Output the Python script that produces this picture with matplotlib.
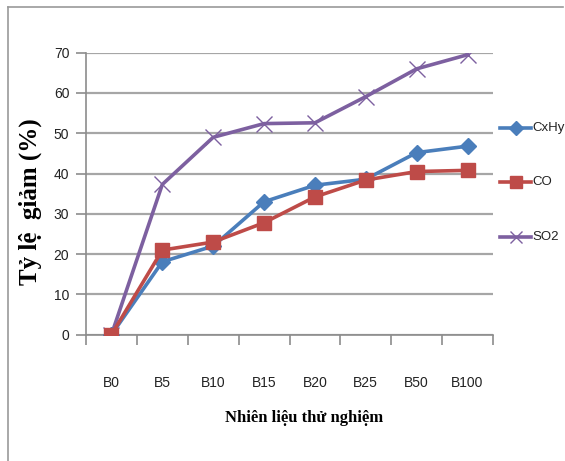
import matplotlib
matplotlib.use("Agg")
import matplotlib.pyplot as plt
from matplotlib.lines import Line2D

categories = ["B0", "B5", "B10", "B15", "B20", "B25", "B50", "B100"]
cxhy = [0, 18.1, 22.0, 33.0, 37.1, 38.6, 45.2, 46.8]
co = [0, 21.0, 23.0, 27.8, 34.2, 38.4, 40.5, 40.8]
so2 = [0, 37.3, 49.0, 52.4, 52.6, 59.1, 66.0, 69.5]
series_names = ["CxHy", "CO", "SO2"]

plt.rcParams["font.family"] = ["Liberation Sans Narrow", "Liberation Sans", "DejaVu Sans"]

W, H = 565, 461
fig = plt.figure(figsize=(W / 100, H / 100), dpi=100)
ax = fig.add_axes([86 / W, 1 - 334.7 / H, (493 - 86) / W, (334.7 - 52.7) / H])

xs = [i + 0.5 for i in range(len(categories))]
ax.plot(xs, cxhy, color="#4A7EBB", lw=2.6, marker="D", ms=8, label=series_names[0], zorder=3)
ax.plot(xs, co, color="#BE4B48", lw=2.6, marker="s", ms=10, label=series_names[1], zorder=4)
ax.plot(xs, so2, color="#7D60A0", lw=2.6, marker="x", ms=11, mew=1.0, label=series_names[2], zorder=2)

ax.set_xlim(0, len(categories))
ax.set_ylim(0, 70)
ax.set_yticks(range(0, 71, 10))
ax.set_xticks(range(0, len(categories) + 1))
ax.set_xticklabels([])
ax.set_xticks(xs, minor=True)
ax.set_xticklabels(categories, minor=True)
ax.tick_params(axis="x", which="minor", length=0, pad=30, labelsize=10, labelcolor="#222222")
ax.tick_params(axis="x", which="major", length=7, direction="out", color="#8c8c8c", width=1.2)
ax.tick_params(axis="y", length=7, direction="out", color="#8c8c8c", width=1.2, labelsize=10,
               pad=5, labelcolor="#222222")
ax.yaxis.grid(True, color="#a6a6a6", lw=1.6)
ax.set_axisbelow(True)
for s in ["top", "right", "bottom"]:
    ax.spines[s].set_visible(False)
ax.spines["left"].set_color("#8c8c8c")
ax.spines["left"].set_linewidth(1.2)
ax.axhline(0, color="#8c8c8c", lw=1.2, zorder=1, clip_on=False)

fig.text(30 / W, 1 - 202 / H, "Tỷ lệ  giảm (%)", rotation=90, ha="center", va="center",
         family="Liberation Serif", fontsize=18, fontweight="bold")
fig.text(304 / W, 1 - 418 / H, "Nhiên liệu thử nghiệm", ha="center", va="center",
         family="Liberation Serif", fontsize=12, fontweight="bold")

# legend entries on the right
ys = [128, 182, 237]
for name, line, y in zip(series_names, ax.get_lines()[:3], ys):
    fy = 1 - y / H
    fig.add_artist(Line2D([500 / W, 515.5 / W, 531 / W], [fy, fy, fy], color=line.get_color(), lw=2.6,
                          marker=line.get_marker(), ms=line.get_markersize() * 0.85,
                          mew=line.get_markeredgewidth(), markevery=[1],
                          transform=fig.transFigure))
    fig.text(532 / W, fy, name, ha="left", va="center", fontsize=9.5, color="#222222")

# outer frame (left and top edges visible)
fig.add_artist(Line2D([7.5 / W, 7.5 / W], [0, 1 - 7 / H], color="#9a9a9a", lw=1.2, transform=fig.transFigure))
fig.add_artist(Line2D([7.5 / W, 563 / W], [1 - 7 / H, 1 - 7 / H], color="#9a9a9a", lw=1.2, transform=fig.transFigure))

fig.savefig("out.png", dpi=100)
